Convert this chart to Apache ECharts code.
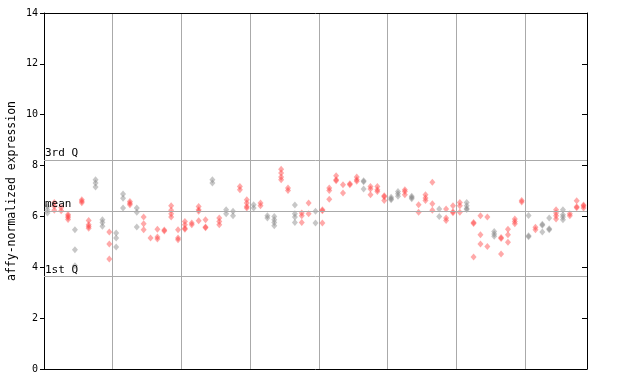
<!DOCTYPE html>
<html><head><meta charset="utf-8">
<script src="https://cdn.jsdelivr.net/npm/echarts@6/dist/echarts.min.js"></script>
<style>html,body{margin:0;padding:0;background:#fff}#c{width:640px;height:384px}</style>
</head><body><div id="c"></div>
<script>
// replicate values per sample (sample index = position in array)
const sampleValues = [
 [6.39,6.26,6.13],[6.55,6.4,6.24],[6.35,6.22],[6.08,6.02,5.96,5.88],[5.48,4.69,4.06],
 [6.66,6.6,6.54],[5.84,5.67,5.6,5.54],[7.44,7.31,7.16],[5.87,5.76,5.61],[5.39,4.92,4.33],
 [5.35,5.15,4.8],[6.88,6.71,6.33],[6.59,6.52,6.46],[6.33,6.16,5.58],[5.98,5.71,5.48],
 [5.15],[5.5,5.19,5.11],[5.47,5.43],[6.42,6.24,6.11,5.98],[5.48,5.15,5.08],
 [5.8,5.67,5.54,5.5],[5.74,5.67],[6.39,6.26,6.2,5.83],[5.87,5.58,5.55],[7.44,7.31],
 [5.94,5.8,5.67],[6.26,6.11],[6.2,6.03],[7.18,7.05],[6.66,6.53,6.39,6.33],
 [6.46,6.33],[6.53,6.42],[6.03,5.94],[6.0,5.87,5.76,5.63],[7.86,7.71,7.55,7.44],
 [7.12,7.02],[6.45,6.11,5.98,5.76],[6.13,6.03,5.76],[6.53,6.11],[6.2,5.74],
 [6.26,6.22,5.74],[7.12,7.02,6.68],[7.6,7.44,7.4],[7.25,6.92],[7.29,7.25],
 [7.55,7.44,7.38],[7.4,7.36,7.08],[7.18,7.08,6.85],[7.18,7.05,6.98],[6.81,6.77,6.63],
 [6.75,6.7,6.66],[6.98,6.89,6.79],[7.05,6.98,6.85],[6.79,6.74,6.7],[6.46,6.16],
 [6.85,6.72,6.63],[7.34,6.5,6.24],[6.29,6.0],[6.29,5.94,5.84],[6.42,6.18,6.14],
 [6.55,6.42,6.16],[6.55,6.42,6.31,6.27],[5.76,5.72,4.4],[6.03,5.28,4.92],[5.98,4.82],
 [5.41,5.31,5.22],[5.17,5.13,4.52],[5.5,5.28,4.98],[5.9,5.8,5.71],[6.63,6.57],
 [6.04,5.24,5.2],[5.57,5.48],[5.69,5.65,5.39],[5.94,5.52,5.48],[6.26,6.13,6.03,5.9],
 [6.26,6.07,5.98,5.87],[6.11,6.03],[6.62,6.38,6.34],[6.45,6.41,6.33]
];
// colour group per sample: g = gray, r = red
const sampleGroup = "grrrgrrggrggrgrrrrrrrrrrgrggrrgrggrrgrrgrrrrrrgrrrggrgrrrgrrrgrrrgrrrrgrggrgrr".split("");
const qLabels = ["3rd Q","mean","1st Q"];
const qValues = [8.22,6.22,3.63];
const yTicks = [0,2,4,6,8,10,12,14];

const grayData=[], redData=[];
sampleValues.forEach((vals,i)=>{
  vals.forEach(v=>{ (sampleGroup[i]==='g'?grayData:redData).push([i+0.5,v]); });
});
const mono = "DejaVu Sans Mono";
const chart = echarts.init(document.getElementById('c'),null,{renderer:'canvas'});
chart.setOption({
  animation:false,
  grid:{left:44,right:53,top:13,bottom:15},
  xAxis:[
   {type:'value',min:0,max:sampleValues.length,interval:10,
    axisLine:{show:true,onZero:false,lineStyle:{color:'#000',width:1}},
    axisTick:{show:false},axisLabel:{show:false},
    splitLine:{show:true,lineStyle:{color:'#aaa',width:1}}},
   {type:'value',position:'top',min:0,max:sampleValues.length,
    axisLine:{show:true,onZero:false,lineStyle:{color:'#000',width:1}},
    axisTick:{show:false},axisLabel:{show:false},splitLine:{show:false}}
  ],
  yAxis:[
   {type:'value',min:0,max:14,interval:2,
    axisLine:{show:true,onZero:false,lineStyle:{color:'#000',width:1}},
    axisTick:{show:true,length:4,lineStyle:{color:'#000'}},
    axisLabel:{fontFamily:mono,fontSize:10,color:'#000',margin:6,
      formatter:v=>yTicks.includes(v)?String(v):''},
    splitLine:{show:false}},
   {type:'value',position:'right',min:0,max:14,interval:2,
    axisLine:{show:true,onZero:false,lineStyle:{color:'#000',width:1}},
    axisTick:{show:true,inside:true,length:5,lineStyle:{color:'#000'}},
    axisLabel:{show:false},splitLine:{show:false}}
  ],
  graphic:[{type:'text',x:12,y:191,rotation:Math.PI/2,
    style:{text:'affy-normalized expression',fontFamily:mono,fontSize:11.5,fill:'#000',
      align:'center',verticalAlign:'middle'}}],
  series:[
   {type:'scatter',data:[],silent:true,
    markLine:{silent:true,symbol:'none',animation:false,
      lineStyle:{color:'#aaa',width:1,type:'solid'},
      label:{position:'insideStartTop',distance:[1,1],fontFamily:mono,fontSize:11,color:'#000',
        formatter:p=>p.name},
      data:qValues.map((v,k)=>({name:qLabels[k],yAxis:v}))}},
   {type:'scatter',data:grayData,symbol:'diamond',symbolSize:[6,7],
    itemStyle:{color:'rgba(128,128,128,0.55)'}},
   {type:'scatter',data:redData,symbol:'diamond',symbolSize:[6,7],
    itemStyle:{color:'rgba(255,60,60,0.55)'}}
  ]
});
</script></body></html>
